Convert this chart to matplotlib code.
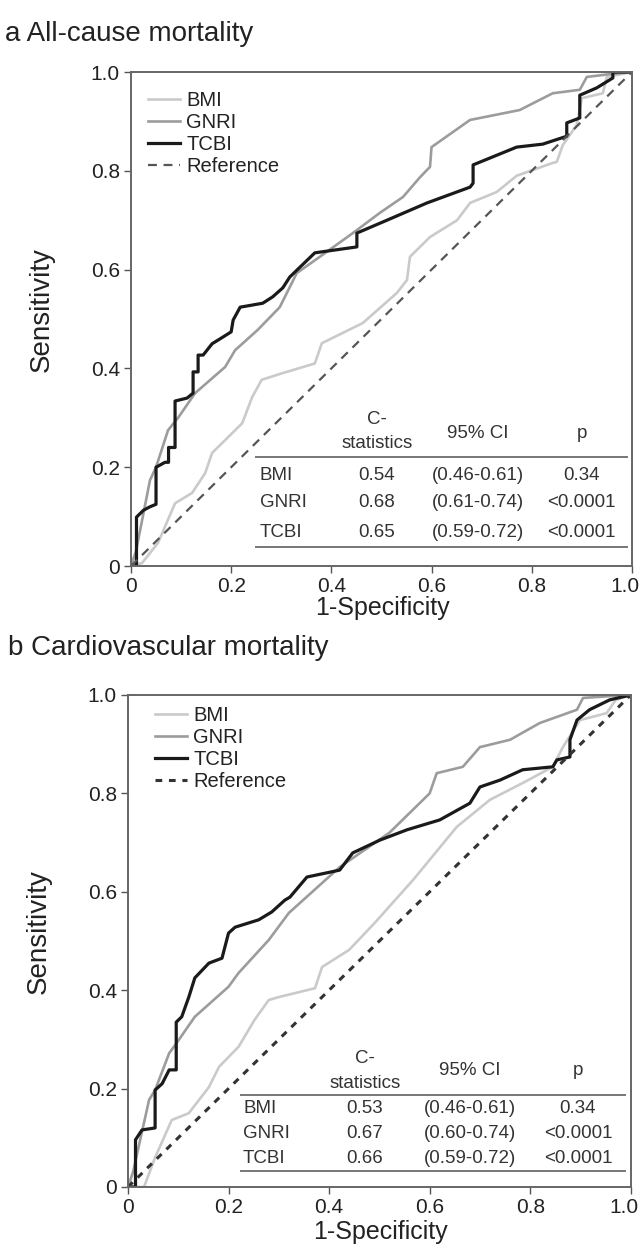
import matplotlib.pyplot as plt
from matplotlib.transforms import ScaledTranslation

plt.rcParams['font.family'] = ['Liberation Sans', 'DejaVu Sans']

# ---- panel a: all-cause mortality (ROC points) ----
a_bmi_x = [0, 0.022, 0.054, 0.088, 0.122, 0.148, 0.162, 0.188, 0.222, 0.242, 0.261, 0.301,
           0.367, 0.381, 0.463, 0.531, 0.551, 0.557, 0.597, 0.651, 0.677, 0.73, 0.77,
           0.842, 0.85, 0.862, 0.89, 0.90, 0.942, 0.95, 1.0]
a_bmi_y = [0, 0.006, 0.047, 0.127, 0.148, 0.188, 0.229, 0.255, 0.289, 0.342, 0.377, 0.39,
           0.41, 0.451, 0.492, 0.553, 0.579, 0.626, 0.666, 0.70, 0.735, 0.757, 0.79,
           0.816, 0.818, 0.852, 0.893, 0.947, 0.957, 0.99, 1.0]

a_gnri_x = [0, 0.01, 0.038, 0.05, 0.074, 0.094, 0.128, 0.188, 0.208, 0.253, 0.297, 0.331,
            0.377, 0.443, 0.497, 0.543, 0.577, 0.597, 0.60, 0.677, 0.776, 0.842, 0.896,
            0.91, 0.95, 1.0]
a_gnri_y = [0, 0.03, 0.174, 0.2, 0.275, 0.30, 0.35, 0.403, 0.437, 0.478, 0.524, 0.593,
            0.626, 0.674, 0.715, 0.747, 0.787, 0.808, 0.848, 0.903, 0.923, 0.957, 0.964,
            0.99, 0.995, 1.0]

a_tcbi_x = [0, 0.011, 0.011, 0.025, 0.038, 0.05, 0.05, 0.068, 0.075, 0.075, 0.088, 0.088,
            0.112, 0.124, 0.124, 0.134, 0.134, 0.144, 0.162, 0.178, 0.2, 0.204, 0.218,
            0.263, 0.283, 0.303, 0.317, 0.367, 0.451, 0.451, 0.511, 0.591, 0.677, 0.683,
            0.683, 0.77, 0.822, 0.87, 0.87, 0.896, 0.896, 0.93, 0.962, 0.962, 1.0]
a_tcbi_y = [0, 0, 0.099, 0.113, 0.12, 0.125, 0.2, 0.21, 0.21, 0.24, 0.24, 0.334,
            0.34, 0.35, 0.393, 0.393, 0.427, 0.427, 0.45, 0.46, 0.474, 0.498, 0.524,
            0.532, 0.545, 0.563, 0.585, 0.634, 0.646, 0.674, 0.70, 0.735, 0.767, 0.775,
            0.812, 0.848, 0.854, 0.87, 0.897, 0.907, 0.953, 0.968, 0.988, 1.0, 1.0]

# ---- panel b: cardiovascular mortality ----
b_bmi_x = [0, 0.032, 0.054, 0.087, 0.121, 0.161, 0.181, 0.22, 0.252, 0.28, 0.30, 0.372,
           0.386, 0.44, 0.491, 0.567, 0.654, 0.72, 0.785, 0.845, 0.865, 0.899, 0.952,
           0.97, 1.0]
b_bmi_y = [0, 0.0, 0.06, 0.136, 0.15, 0.203, 0.244, 0.285, 0.34, 0.38, 0.386, 0.404,
           0.447, 0.482, 0.537, 0.624, 0.732, 0.787, 0.821, 0.854, 0.894, 0.949, 0.963,
           0.99, 1.0]

b_gnri_x = [0, 0.01, 0.042, 0.054, 0.082, 0.095, 0.133, 0.2, 0.22, 0.28, 0.32, 0.421,
            0.52, 0.60, 0.614, 0.666, 0.70, 0.76, 0.819, 0.893, 0.905, 0.95, 1.0]
b_gnri_y = [0, 0.03, 0.177, 0.197, 0.272, 0.29, 0.346, 0.407, 0.435, 0.502, 0.557, 0.65,
            0.72, 0.80, 0.841, 0.854, 0.894, 0.909, 0.943, 0.97, 0.994, 0.997, 1.0]

b_tcbi_x = [0, 0.015, 0.015, 0.028, 0.054, 0.054, 0.068, 0.082, 0.096, 0.096, 0.107, 0.121,
            0.133, 0.161, 0.187, 0.2, 0.213, 0.26, 0.286, 0.312, 0.322, 0.356, 0.421,
            0.447, 0.501, 0.555, 0.62, 0.68, 0.70, 0.74, 0.785, 0.845, 0.853, 0.879,
            0.879, 0.893, 0.918, 0.958, 1.0]
b_tcbi_y = [0, 0, 0.096, 0.116, 0.12, 0.197, 0.21, 0.238, 0.238, 0.335, 0.346, 0.386,
            0.425, 0.455, 0.465, 0.516, 0.528, 0.543, 0.559, 0.583, 0.589, 0.63, 0.644,
            0.679, 0.705, 0.726, 0.746, 0.78, 0.813, 0.827, 0.848, 0.854, 0.868, 0.874,
            0.909, 0.949, 0.97, 0.99, 1.0]

# ---- tables ----
row_names = ['BMI', 'GNRI', 'TCBI']
a_cstat = ['0.54', '0.68', '0.65']
a_ci = ['(0.46-0.61)', '(0.61-0.74)', '(0.59-0.72)']
a_p = ['0.34', '<0.0001', '<0.0001']
b_cstat = ['0.53', '0.67', '0.66']
b_ci = ['(0.46-0.61)', '(0.60-0.74)', '(0.59-0.72)']
b_p = ['0.34', '<0.0001', '<0.0001']

ticks = [0, 0.2, 0.4, 0.6, 0.8, 1.0]
tick_labels = ['0', '0.2', '0.4', '0.6', '0.8', '1.0']

C_BMI = '#cacaca'
C_GNRI = '#9c9c9c'
C_TCBI = '#1a1a1a'


def draw_panel(fig, ax, curves, cstat, ci, pvals, tab, ref_style, leg_xy, xlab_y):
    (bx, by), (gx, gy), (tx, ty) = curves
    ax.plot(bx, by, color=C_BMI, lw=1.9, label='BMI')
    ax.plot(gx, gy, color=C_GNRI, lw=1.9, label='GNRI')
    ax.plot(tx, ty, color=C_TCBI, lw=2.3, label='TCBI')
    ax.plot([0, 1], [0, 1], label='Reference', **ref_style)
    ax.set_xlim(0, 1)
    ax.set_ylim(0, 1)
    ax.set_xticks(ticks)
    ax.set_xticklabels(tick_labels)
    ax.set_yticks(ticks)
    ax.set_yticklabels(tick_labels)
    ax.tick_params(labelsize=15, length=5, width=1.0, pad=3,
                   color='#555555', labelcolor='#222222')
    # keep the last x tick label inside the picture
    last = ax.get_xticklabels()[-1]
    last.set_transform(last.get_transform() + ScaledTranslation(-5 / 72, 0, fig.dpi_scale_trans))
    for s in ax.spines.values():
        s.set_color('#666666')
        s.set_linewidth(1.4)
    ax.set_xlabel('1-Specificity', fontsize=18, color='#222222')
    ax.set_ylabel('Sensitivity', fontsize=20, color='#222222')
    ax.xaxis.set_label_coords(0.503, xlab_y)
    ax.yaxis.set_label_coords(-0.152, 0.52)
    leg = ax.legend(loc='upper left', frameon=False, fontsize=14.5, handlelength=1.6,
                    handletextpad=0.3, labelspacing=0.15, borderaxespad=0.0,
                    borderpad=0.0, bbox_to_anchor=leg_xy)
    for t in leg.get_texts():
        t.set_color('#222222')

    # table drawn as text in data coordinates
    x0, x1, xl, xc, xci, xp, yc, ys, yh, ytop, rows, ybot = tab
    tc = '#333333'
    fs = 13.5
    ax.text(xc, yc, 'C-', ha='center', va='center', fontsize=fs, color=tc)
    ax.text(xc, ys, 'statistics', ha='center', va='center', fontsize=fs, color=tc)
    ax.text(xci, yh, '95% CI', ha='center', va='center', fontsize=fs, color=tc)
    ax.text(xp, yh, 'p', ha='center', va='center', fontsize=fs, color=tc)
    ax.plot([x0, x1], [ytop, ytop], color='#777777', lw=1.4)
    ax.plot([x0, x1], [ybot, ybot], color='#777777', lw=1.4)
    for name, c, ic, p, yr in zip(row_names, cstat, ci, pvals, rows):
        ax.text(xl, yr, name, ha='left', va='center', fontsize=fs, color=tc)
        ax.text(xc, yr, c, ha='center', va='center', fontsize=fs, color=tc)
        ax.text(xci, yr, ic, ha='center', va='center', fontsize=fs, color=tc)
        ax.text(xp, yr, p, ha='center', va='center', fontsize=fs, color=tc)


fig = plt.figure(figsize=(6.43, 12.59), dpi=100)
ax_a = fig.add_axes([0.2037, 0.5504, 0.779, 0.3924])
ax_b = fig.add_axes([0.199, 0.0572, 0.782, 0.3908])

draw_panel(fig, ax_a, [(a_bmi_x, a_bmi_y), (a_gnri_x, a_gnri_y), (a_tcbi_x, a_tcbi_y)],
           a_cstat, a_ci, a_p,
           (0.25, 0.99, 0.257, 0.491, 0.693, 0.90, 0.296, 0.249, 0.269, 0.221,
            [0.184, 0.128, 0.067], 0.038),
           dict(color='#555555', lw=1.6, ls=(0, (4, 3))),
           (0.034, 0.962), -0.06)
draw_panel(fig, ax_b, [(b_bmi_x, b_bmi_y), (b_gnri_x, b_gnri_y), (b_tcbi_x, b_tcbi_y)],
           b_cstat, b_ci, b_p,
           (0.225, 0.988, 0.229, 0.471, 0.68, 0.895, 0.262, 0.211, 0.236, 0.187,
            [0.159, 0.108, 0.057], 0.033),
           dict(color='#333333', lw=2.2, ls=(0, (2.2, 2.2))),
           (0.054, 0.978), -0.067)

fig.text(0.008, 1 - 34 / 1259, 'a All-cause mortality', fontsize=20, color='#222222',
         ha='left', va='center')
fig.text(0.012, 1 - 648 / 1259, 'b Cardiovascular mortality', fontsize=20, color='#222222',
         ha='left', va='center')

fig.savefig('out.png', dpi=100, facecolor='white')
